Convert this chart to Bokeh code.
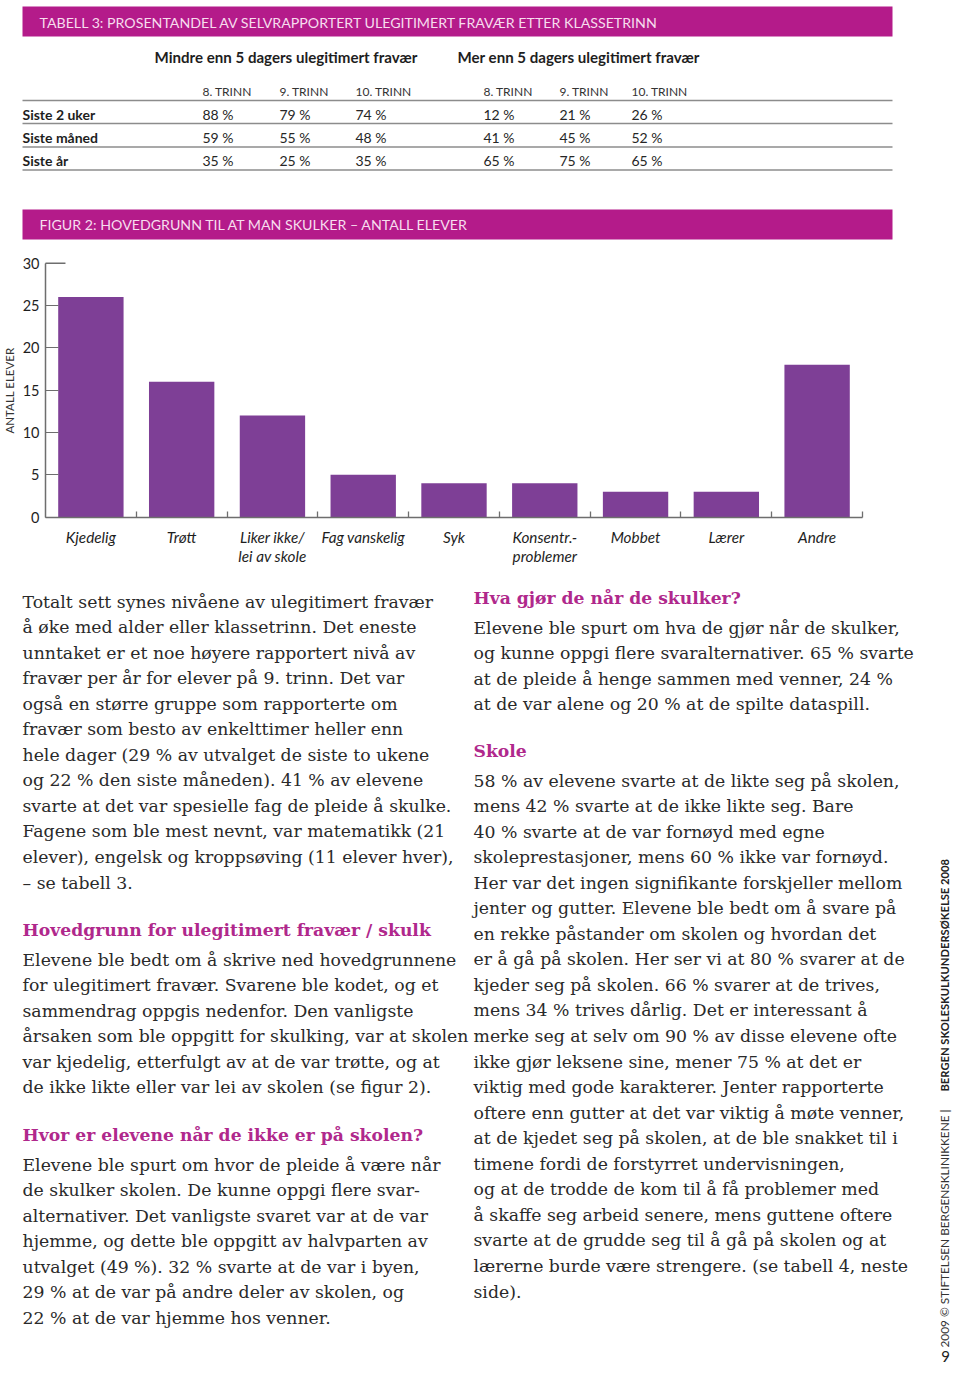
from bokeh.plotting import figure
from bokeh.models import Range1d, FixedTicker, LinearAxis
from bokeh.core.properties import value
from bokeh.embed import file_html
from bokeh.resources import INLINE
import math

# ---------------- data ----------------
table_title = "TABELL 3: PROSENTANDEL AV SELVRAPPORTERT ULEGITIMERT FRAVÆR ETTER KLASSETRINN"
group_titles = ["Mindre enn 5 dagers ulegitimert fravær", "Mer enn 5 dagers ulegitimert fravær"]
grades = ["8. TRINN", "9. TRINN", "10. TRINN"]
periods = ["Siste 2 uker", "Siste måned", "Siste år"]
under5 = [[88, 79, 74], [59, 55, 48], [35, 25, 35]]
over5 = [[12, 21, 26], [41, 45, 52], [65, 75, 65]]

fig_title = "FIGUR 2: HOVEDGRUNN TIL AT MAN SKULKER – ANTALL ELEVER"
reasons = ["Kjedelig", "Trøtt", "Liker ikke/\nlei av skole", "Fag vanskelig", "Syk",
           "Konsentr.-\nproblemer", "Mobbet", "Lærer", "Andre"]
counts = [26, 16, 12, 5, 4, 4, 3, 3, 18]
y_ticks = [0, 5, 10, 15, 20, 25, 30]
y_label = "ANTALL ELEVER"

left_p1 = [
    "Totalt sett synes nivåene av ulegitimert fravær",
    "å øke med alder eller klassetrinn. Det eneste",
    "unntaket er et noe høyere rapportert nivå av",
    "fravær per år for elever på 9. trinn. Det var",
    "også en større gruppe som rapporterte om",
    "fravær som besto av enkelttimer heller enn",
    "hele dager (29 % av utvalget de siste to ukene",
    "og 22 % den siste måneden). 41 % av elevene",
    "svarte at det var spesielle fag de pleide å skulke.",
    "Fagene som ble mest nevnt, var matematikk (21",
    "elever), engelsk og kroppsøving (11 elever hver),",
    "– se tabell 3.",
]
left_h2 = "Hovedgrunn for ulegitimert fravær / skulk"
left_p2 = [
    "Elevene ble bedt om å skrive ned hovedgrunnene",
    "for ulegitimert fravær. Svarene ble kodet, og et",
    "sammendrag oppgis nedenfor. Den vanligste",
    "årsaken som ble oppgitt for skulking, var at skolen",
    "var kjedelig, etterfulgt av at de var trøtte, og at",
    "de ikke likte eller var lei av skolen (se figur 2).",
]
left_h3 = "Hvor er elevene når de ikke er på skolen?"
left_p3 = [
    "Elevene ble spurt om hvor de pleide å være når",
    "de skulker skolen. De kunne oppgi flere svar-",
    "alternativer. Det vanligste svaret var at de var",
    "hjemme, og dette ble oppgitt av halvparten av",
    "utvalget (49 %). 32 % svarte at de var i byen,",
    "29 % at de var på andre deler av skolen, og",
    "22 % at de var hjemme hos venner.",
]
right_h1 = "Hva gjør de når de skulker?"
right_p1 = [
    "Elevene ble spurt om hva de gjør når de skulker,",
    "og kunne oppgi flere svaralternativer. 65 % svarte",
    "at de pleide å henge sammen med venner, 24 %",
    "at de var alene og 20 % at de spilte dataspill.",
]
right_h2 = "Skole"
right_p2 = [
    "58 % av elevene svarte at de likte seg på skolen,",
    "mens 42 % svarte at de ikke likte seg. Bare",
    "40 % svarte at de var fornøyd med egne",
    "skoleprestasjoner, mens 60 % ikke var fornøyd.",
    "Her var det ingen signifikante forskjeller mellom",
    "jenter og gutter. Elevene ble bedt om å svare på",
    "en rekke påstander om skolen og hvordan det",
    "er å gå på skolen. Her ser vi at 80 % svarer at de",
    "kjeder seg på skolen. 66 % svarer at de trives,",
    "mens 34 % trives dårlig. Det er interessant å",
    "merke seg at selv om 90 % av disse elevene ofte",
    "ikke gjør leksene sine, mener 75 % at det er",
    "viktig med gode karakterer. Jenter rapporterte",
    "oftere enn gutter at det var viktig å møte venner,",
    "at de kjedet seg på skolen, at de ble snakket til i",
    "timene fordi de forstyrret undervisningen,",
    "og at de trodde de kom til å få problemer med",
    "å skaffe seg arbeid senere, mens guttene oftere",
    "svarte at de grudde seg til å gå på skolen og  at",
    "lærerne burde være strengere. (se tabell 4, neste",
    "side).",
]
footer_a = "2009 © STIFTELSEN BERGENSKLINIKKENE |"
footer_b = "BERGEN SKOLESKULKUNDERSØKELSE 2008"
page_no = "9"

# ---------------- style / layout ----------------
W, H = 952, 1364
PX0, PY0 = 0, 0                # page pixel of the canvas' top-left corner
MAGENTA = "#B41B8A"
BANNER_TXT = "#F7DDEE"
HEAD = "#B0288C"
BODY = "#2A2A2A"
BAR = "#7E3F96"
AX = "#6E6E6E"
SANS = "Lato"
SERIF = "DejaVu Serif"

# chart placement on the page (pixels)
CH_LEFT, CH_RIGHT = 45.0, 862.0     # value-axis x, right end of category axis
CH_ZERO, CH_TOP = 516.7, 262.7      # pixel y of 0 and of 30
n_cat = len(reasons)
cat_w = (CH_RIGHT - CH_LEFT) / n_cat
cnt_px = (CH_ZERO - CH_TOP) / 30.0

p = figure(width=W, height=H, x_range=Range1d(PX0, PX0 + W), y_range=Range1d(PY0 + H, PY0),
           output_backend="svg", toolbar_location=None,
           x_axis_location=None, y_axis_location=None, min_border=0)
p.outline_line_color = None
p.xgrid.grid_line_color = None
p.ygrid.grid_line_color = None

p.extra_x_ranges = {"cat": Range1d((PX0 - CH_LEFT) / cat_w, (PX0 + W - CH_LEFT) / cat_w)}
p.extra_y_ranges = {"cnt": Range1d((CH_ZERO - (PY0 + H)) / cnt_px, (CH_ZERO - PY0) / cnt_px)}

# ---------------- table ----------------
p.quad(left=[22, 22], right=[892, 892], top=[6, 209], bottom=[36, 239],
       fill_color=MAGENTA, line_color=None)
p.text(x=[39, 39], y=[21.5, 224], text=[table_title, fig_title], text_baseline="middle",
       text_font=value(SANS), text_font_size="14.2px", text_color=BANNER_TXT)

p.text(x=[154, 457], y=[56, 56], text=group_titles, text_baseline="middle",
       text_font=value(SANS), text_font_size="15.1px", text_font_style="bold", text_color="#1E1E1E")

col_x = [202, 279, 355, 483, 559, 631]
p.text(x=col_x, y=[91] * 6, text=grades * 2, text_baseline="middle",
       text_font=value(SANS), text_font_size="12px", text_color="#333333")

line_y = [100, 123, 146.5, 169.5]
p.segment(x0=[22] * 4, x1=[892] * 4, y0=line_y, y1=line_y, line_color="#8C8C8C", line_width=1.3)

row_y = [113.5, 137, 160]
p.text(x=[22] * 3, y=row_y, text=periods, text_baseline="middle",
       text_font=value(SANS), text_font_size="14px", text_font_style="bold", text_color="#1E1E1E")
vx, vy, vt = [], [], []
for r in range(3):
    vals = under5[r] + over5[r]
    for c in range(6):
        vx.append(col_x[c]); vy.append(row_y[r]); vt.append(f"{vals[c]} %")
p.text(x=vx, y=vy, text=vt, text_baseline="middle",
       text_font=value(SANS), text_font_size="14px", text_color="#262626")

# ---------------- bar chart ----------------
cat_pos = [i + 0.5 for i in range(n_cat)]
p.vbar(x=cat_pos, top=counts, bottom=0, width=0.72, fill_color=BAR, line_color=None,
       x_range_name="cat", y_range_name="cnt")
p.segment(x0=[0], x1=[0.22], y0=[30], y1=[30], line_color=AX, line_width=1.5,
          x_range_name="cat", y_range_name="cnt")

ya = LinearAxis(x_range_name="cat", y_range_name="cnt", fixed_location=0, bounds=(0, 30),
                ticker=FixedTicker(ticks=y_ticks, minor_ticks=[]))
ya.major_tick_in = 13
ya.major_tick_out = 0
ya.minor_tick_line_color = None
ya.major_tick_line_color = AX
ya.axis_line_color = AX
ya.axis_line_width = 1.5
ya.major_label_text_font = SANS
ya.major_label_text_font_size = "14.5px"
ya.major_label_text_color = "#1E1E1E"
ya.major_label_standoff = 6
ya.axis_label = y_label
ya.axis_label_text_font = SANS
ya.axis_label_text_font_size = "11.5px"
ya.axis_label_text_font_style = "normal"
ya.axis_label_text_color = "#333333"
ya.axis_label_standoff = 4
p.add_layout(ya, "left")

xa = LinearAxis(x_range_name="cat", y_range_name="cnt", fixed_location=0, bounds=(0, n_cat),
                ticker=FixedTicker(ticks=cat_pos, minor_ticks=list(range(1, n_cat + 1))))
xa.major_label_overrides = {cp: r for cp, r in zip(cat_pos, reasons)}
xa.major_tick_line_color = None
xa.minor_tick_in = 6
xa.minor_tick_out = 0
xa.minor_tick_line_color = AX
xa.minor_tick_line_width = 1.3
xa.axis_line_color = AX
xa.axis_line_width = 1.5
xa.major_label_text_font = SANS
xa.major_label_text_font_size = "15.3px"
xa.major_label_text_font_style = "italic"
xa.major_label_text_color = "#1E1E1E"
xa.major_label_text_line_height = 1.05
xa.major_label_standoff = 5
p.add_layout(xa, "below")

# ---------------- body text ----------------
LH = 25.55


def para(x, y0, lines):
    ys = [y0 + i * LH for i in range(len(lines))]
    p.text(x=[x] * len(lines), y=ys, text=lines, text_baseline="middle",
           text_font=value(SERIF), text_font_size="17.3px", text_color=BODY)


def head(x, y, s):
    p.text(x=[x], y=[y], text=[s], text_baseline="middle",
           text_font=value(SERIF), text_font_size="17.2px", text_font_style="bold", text_color=HEAD)


para(22, 601, left_p1)
head(22, 929, left_h2)
para(22, 959, left_p2)
head(22, 1134, left_h3)
para(22, 1164, left_p3)
head(473, 597, right_h1)
para(473, 627, right_p1)
head(473, 750, right_h2)
para(473, 780, right_p2)

p.text(x=[944], y=[1347], text=[footer_a], angle=math.pi / 2, text_align="left",
       text_baseline="middle", text_font=value(SANS), text_font_size="11.8px", text_color="#333333")
p.text(x=[944], y=[1091], text=[footer_b], angle=math.pi / 2, text_align="left",
       text_baseline="middle", text_font=value(SANS), text_font_size="11.2px",
       text_font_style="bold", text_color="#222222")
p.text(x=[945], y=[1356], text=[page_no], text_align="center", text_baseline="middle",
       text_font=value(SANS), text_font_size="15px", text_color="#222222")

open("out.html", "w").write(file_html(p, INLINE))
